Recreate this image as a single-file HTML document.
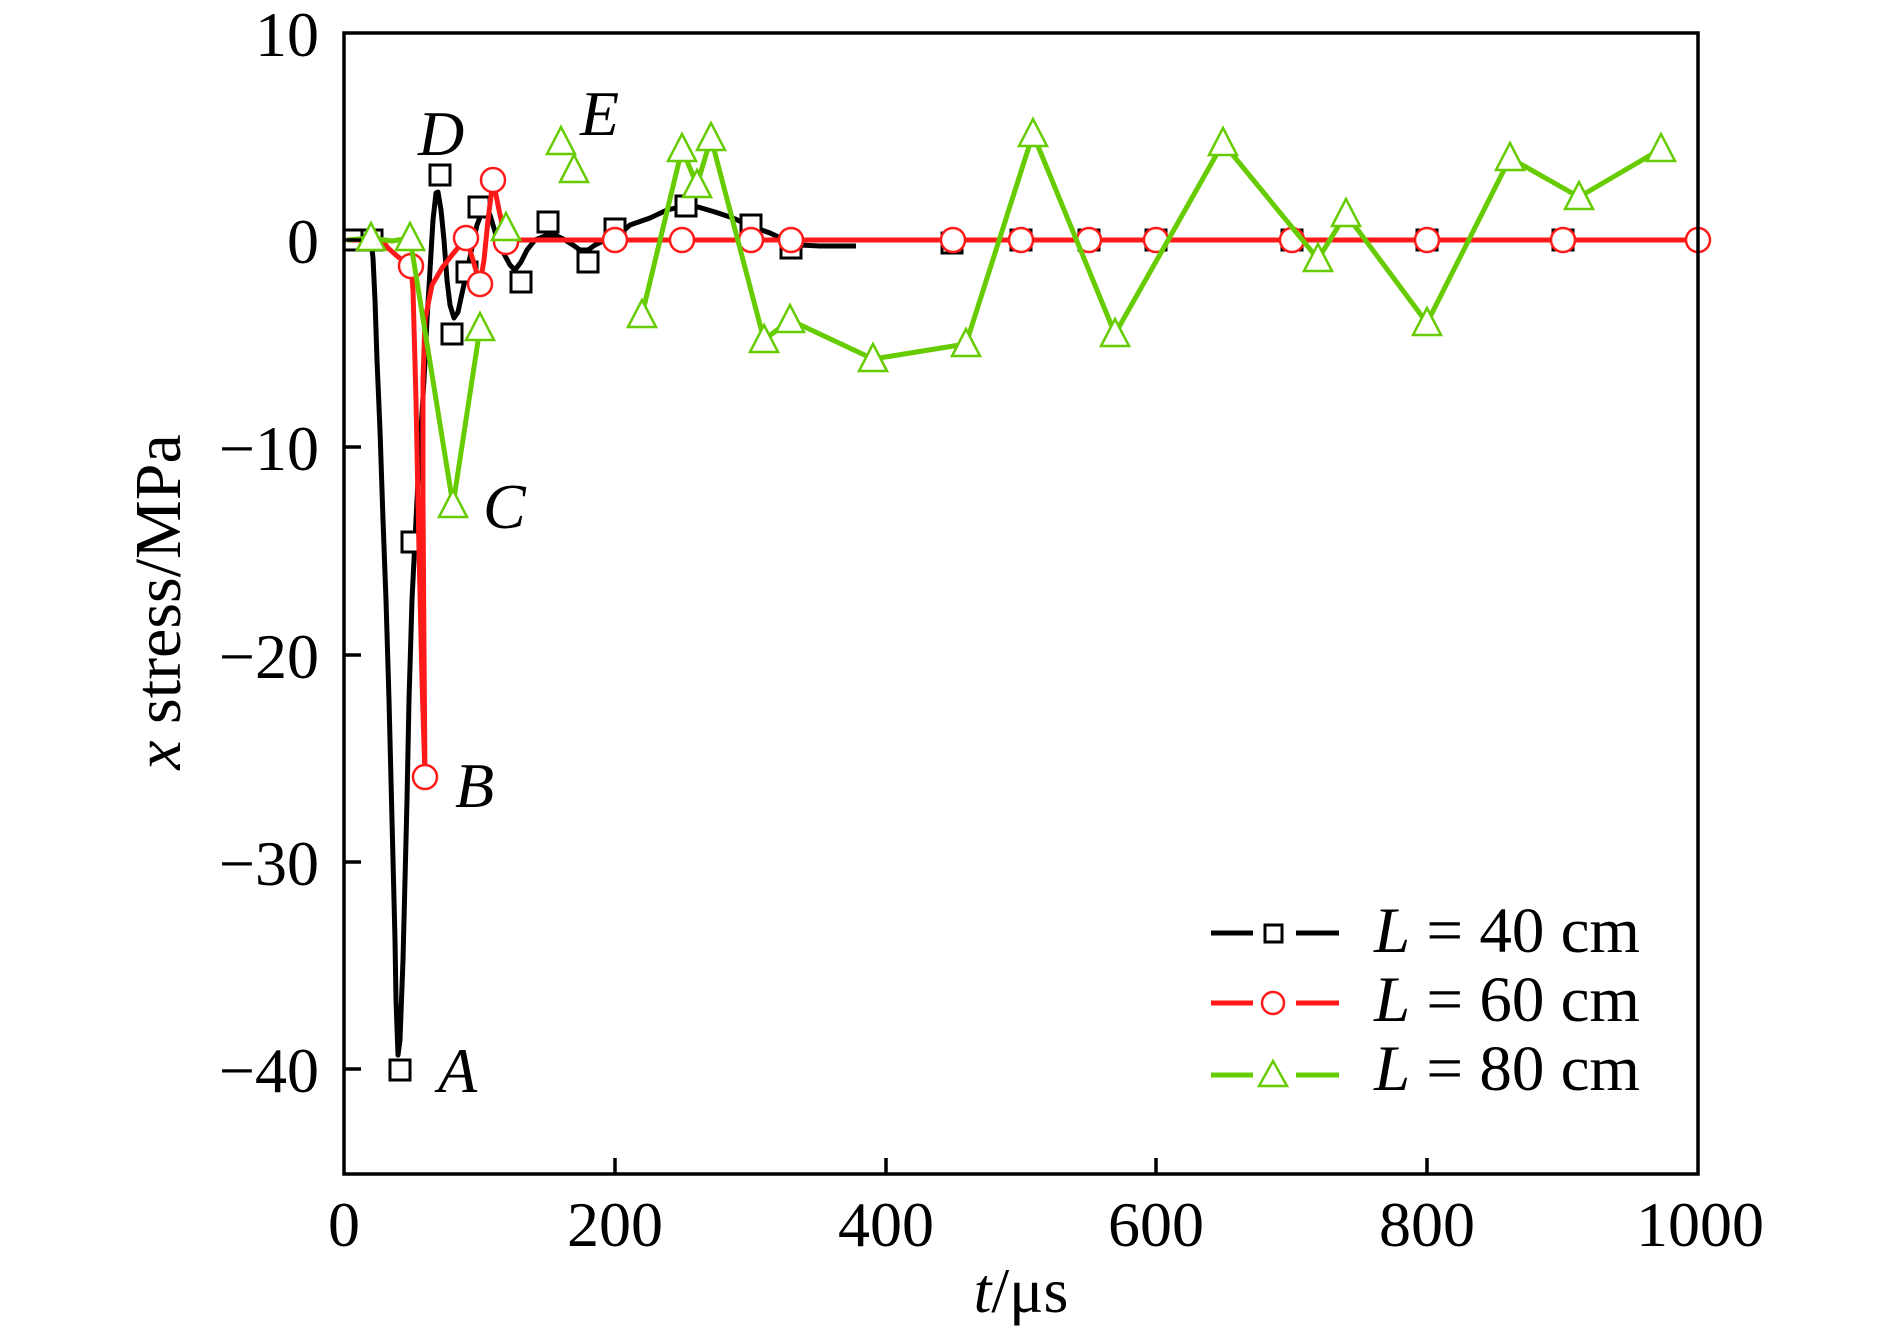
<!DOCTYPE html>
<html>
<head>
<meta charset="utf-8">
<style>
html,body{margin:0;padding:0;background:#fff;}
svg{display:block;}
text{font-family:"Liberation Serif",serif;fill:#000;}
</style>
</head>
<body>
<svg width="1890" height="1334" viewBox="0 0 1890 1334" xmlns="http://www.w3.org/2000/svg">
<rect x="0" y="0" width="1890" height="1334" fill="#fff"/>

<!-- L=40 black line -->
<polyline fill="none" stroke="#000" stroke-width="5" stroke-linejoin="round" points="347,233 365,233 371,240 373,258 375,300 377,360 380,430 383,520 386,600 389,700 391,780 393,860 395,940 396,1000 398,1055 400,1040 403,960 405,880 407,800 409,700 412,600 415,540 418,480 421,430 424,380 427,320 430,270 433,220 436,193 438,192 441,210 444,240 447,280 450,305 454,318 458,312 461,298 465,280 469,262 473,243 477,225 482,212 486,205 490,215 496,235 503,252 510,265 515,270 521,262 527,250 535,240 545,236 555,235 565,240 573,245 580,250 588,250 595,245 605,240 615,238 630,225 650,218 667,210 680,207 698,207 715,212 733,218 750,226 770,233 785,240 800,245 820,246 856,246"/>
<g fill="#fff" stroke="#000" stroke-width="3">
<rect x="344" y="230" width="20" height="20"/>
<rect x="362" y="230" width="20" height="20"/>
<rect x="390" y="1060" width="20" height="20"/>
<rect x="402" y="532" width="20" height="20"/>
<rect x="430" y="165" width="20" height="20"/>
<rect x="442" y="324" width="20" height="20"/>
<rect x="457" y="262" width="20" height="20"/>
<rect x="469" y="197" width="20" height="20"/>
<rect x="511" y="272" width="20" height="20"/>
<rect x="538" y="212" width="20" height="20"/>
<rect x="578" y="252" width="20" height="20"/>
<rect x="605" y="219" width="20" height="20"/>
<rect x="676" y="196" width="20" height="20"/>
<rect x="741" y="215" width="20" height="20"/>
<rect x="781" y="238" width="20" height="20"/>
<rect x="942" y="233" width="20" height="20"/>
<rect x="1011" y="230" width="20" height="20"/>
<rect x="1079" y="230" width="20" height="20"/>
<rect x="1146" y="230" width="20" height="20"/>
<rect x="1282" y="230" width="20" height="20"/>
<rect x="1417" y="230" width="20" height="20"/>
<rect x="1553" y="230" width="20" height="20"/>
</g>

<!-- L=60 red line -->
<polyline fill="none" stroke="#ff1a1a" stroke-width="5" stroke-linejoin="round" points="347,240 382,240 388,248 397,256 405,262 411,266 413,290 416,400 419,550 422,680 425,777 424,650 423,500 423,380 425,320 432,285 442,268 452,255 466,238 473,260 480,284 484,260 488,220 493,180 499,210 506,242 515,240 1698,240"/>
<g fill="#fff" stroke="#ff1a1a" stroke-width="2.5">
<circle cx="411" cy="266" r="12"/>
<circle cx="425" cy="777" r="12"/>
<circle cx="466" cy="238" r="12"/>
<circle cx="480" cy="284" r="12"/>
<circle cx="493" cy="180" r="12"/>
<circle cx="506" cy="242" r="12"/>
<circle cx="615" cy="240" r="12"/>
<circle cx="682" cy="240" r="12"/>
<circle cx="751" cy="240" r="12"/>
<circle cx="791" cy="240" r="12"/>
<circle cx="953" cy="240" r="12"/>
<circle cx="1021" cy="240" r="12"/>
<circle cx="1089" cy="240" r="12"/>
<circle cx="1156" cy="240" r="12"/>
<circle cx="1292" cy="240" r="12"/>
<circle cx="1427" cy="240" r="12"/>
<circle cx="1563" cy="240" r="12"/>
<circle cx="1698" cy="240" r="12"/>
</g>

<!-- L=80 green line -->
<polyline fill="none" stroke="#66cc00" stroke-width="5" stroke-linejoin="round" points="347,240 371,238 392,241 410,238 453,505 480,328"/>
<polyline fill="none" stroke="#66cc00" stroke-width="5" stroke-linejoin="round" points="642,315 682,149 697,185 711,138 764,340 790,320 873,359 966,344 1033,134 1115,334 1223,143 1318,259 1346,214 1427,323 1510,158 1579,197 1661,149"/>
<g fill="#fff" stroke="#66cc00" stroke-width="2.5" stroke-linejoin="miter">
<polygon points="371,223 357,250 385,250"/>
<polygon points="410,223 396,250 424,250"/>
<polygon points="453,490 439,517 467,517"/>
<polygon points="480,313 466,340 494,340"/>
<polygon points="506,213 492,240 520,240"/>
<polygon points="561,127 547,154 575,154"/>
<polygon points="574,155 560,182 588,182"/>
<polygon points="642,300 628,327 656,327"/>
<polygon points="682,134 668,161 696,161"/>
<polygon points="697,170 683,197 711,197"/>
<polygon points="711,123 697,150 725,150"/>
<polygon points="764,325 750,352 778,352"/>
<polygon points="790,305 776,332 804,332"/>
<polygon points="873,344 859,371 887,371"/>
<polygon points="966,329 952,356 980,356"/>
<polygon points="1033,119 1019,146 1047,146"/>
<polygon points="1115,319 1101,346 1129,346"/>
<polygon points="1223,128 1209,155 1237,155"/>
<polygon points="1318,244 1304,271 1332,271"/>
<polygon points="1346,199 1332,226 1360,226"/>
<polygon points="1427,308 1413,335 1441,335"/>
<polygon points="1510,143 1496,170 1524,170"/>
<polygon points="1579,182 1565,209 1593,209"/>
<polygon points="1661,134 1647,161 1675,161"/>
</g>

<!-- axes frame -->
<rect x="344" y="33" width="1354" height="1141" fill="none" stroke="#000" stroke-width="3.5"/>
<!-- y ticks -->
<g stroke="#000" stroke-width="3.5">
<line x1="344" y1="240" x2="361" y2="240"/>
<line x1="344" y1="447" x2="361" y2="447"/>
<line x1="344" y1="655" x2="361" y2="655"/>
<line x1="344" y1="862" x2="361" y2="862"/>
<line x1="344" y1="1069" x2="361" y2="1069"/>
<!-- x ticks -->
<line x1="615" y1="1174" x2="615" y2="1158"/>
<line x1="886" y1="1174" x2="886" y2="1158"/>
<line x1="1156" y1="1174" x2="1156" y2="1158"/>
<line x1="1427" y1="1174" x2="1427" y2="1158"/>
</g>

<!-- y tick labels -->
<g font-size="64" text-anchor="end">
<text x="319" y="56">10</text>
<text x="319" y="263">0</text>
<text x="319" y="470">−10</text>
<text x="319" y="678">−20</text>
<text x="319" y="885">−30</text>
<text x="319" y="1092">−40</text>
</g>
<!-- x tick labels -->
<g font-size="64" text-anchor="middle">
<text x="344" y="1246">0</text>
<text x="615" y="1246">200</text>
<text x="886" y="1246">400</text>
<text x="1156" y="1246">600</text>
<text x="1427" y="1246">800</text>
<text x="1700" y="1246">1000</text>
</g>

<!-- axis labels -->
<text x="1021" y="1312" font-size="64" text-anchor="middle"><tspan font-style="italic">t</tspan>/μs</text>
<text transform="translate(180,602) rotate(-90)" font-size="66" text-anchor="middle"><tspan font-style="italic">x</tspan> stress/MPa</text>

<!-- point labels -->
<g font-size="64" font-style="italic">
<text x="418" y="155">D</text>
<text x="580" y="135">E</text>
<text x="483" y="528">C</text>
<text x="455" y="807">B</text>
<text x="438" y="1092">A</text>
</g>

<!-- legend -->
<g stroke-width="5">
<line x1="1211" y1="933" x2="1253" y2="933" stroke="#000"/>
<line x1="1296" y1="933" x2="1339" y2="933" stroke="#000"/>
<line x1="1211" y1="1003" x2="1253" y2="1003" stroke="#ff1a1a"/>
<line x1="1296" y1="1003" x2="1339" y2="1003" stroke="#ff1a1a"/>
<line x1="1211" y1="1075" x2="1253" y2="1075" stroke="#66cc00"/>
<line x1="1296" y1="1075" x2="1339" y2="1075" stroke="#66cc00"/>
</g>
<rect x="1265" y="925" width="17" height="17" fill="#fff" stroke="#000" stroke-width="3"/>
<circle cx="1273" cy="1003" r="11" fill="#fff" stroke="#ff1a1a" stroke-width="2.5"/>
<polygon points="1273,1061 1259,1086 1287,1086" fill="#fff" stroke="#66cc00" stroke-width="2.5"/>
<g font-size="65">
<text x="1374" y="952"><tspan font-style="italic">L</tspan> = 40 cm</text>
<text x="1374" y="1021"><tspan font-style="italic">L</tspan> = 60 cm</text>
<text x="1374" y="1090"><tspan font-style="italic">L</tspan> = 80 cm</text>
</g>
</svg>
</body>
</html>
